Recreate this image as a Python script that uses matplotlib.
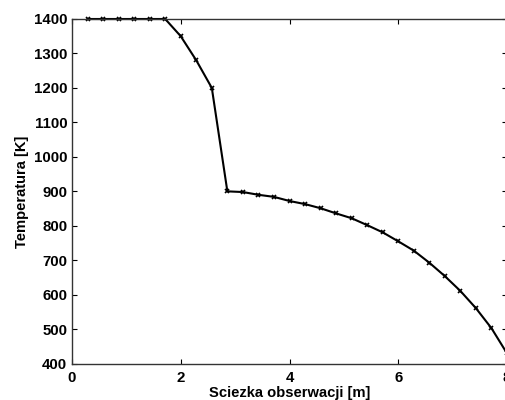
import matplotlib
matplotlib.use("Agg")
import matplotlib.pyplot as plt
import numpy as np

# Data
step = [1, 2, 3, 4, 5, 6, 7, 8, 9, 10, 11, 12, 13, 14, 15, 16, 17, 18, 19, 20,
        21, 22, 23, 24, 25, 26, 27, 28]
distance = [s * 8 / 28 for s in step]
temperature = [1400, 1400, 1400, 1400, 1400, 1400, 1350, 1280, 1200, 900,
               898, 890, 884, 872, 863, 851, 836, 822, 802, 781,
               755, 728, 693, 654, 611, 561, 503, 430]
xticks = [0, 2, 4, 6, 8]
yticks = [400, 500, 600, 700, 800, 900, 1000, 1100, 1200, 1300, 1400]

plt.rcParams['font.family'] = ['Liberation Sans', 'DejaVu Sans']
plt.rcParams['font.weight'] = 'bold'

fig = plt.figure(figsize=(5.05, 4.0), dpi=100)
ax = fig.add_axes([72 / 505, 36.3 / 400, 435 / 505, 344.7 / 400])

ax.plot(distance, temperature, color='black', linewidth=1.5,
        marker='x', markersize=3.5, markeredgewidth=1.2, clip_on=False)

ax.set_xlim(0, 8)
ax.set_ylim(400, 1400)
ax.set_xticks(xticks)
ax.set_yticks(yticks)
ax.tick_params(direction='in', top=True, right=True, length=3.5, width=0.8,
               labelsize=10.8, colors='black')
ax.tick_params(axis='x', pad=5.5)
ax.tick_params(axis='y', pad=3.5)
for lab in ax.get_xticklabels() + ax.get_yticklabels():
    lab.set_fontweight('bold')
for sp in ax.spines.values():
    sp.set_linewidth(1.0)
    sp.set_color('#333333')

ax.set_xlabel('Sciezka obserwacji [m]', fontsize=10.6, fontweight='bold', labelpad=0.5)
ax.set_ylabel('Temperatura [K]', fontsize=10.6, fontweight='bold', labelpad=3)

fig.savefig('out.png', dpi=100)
